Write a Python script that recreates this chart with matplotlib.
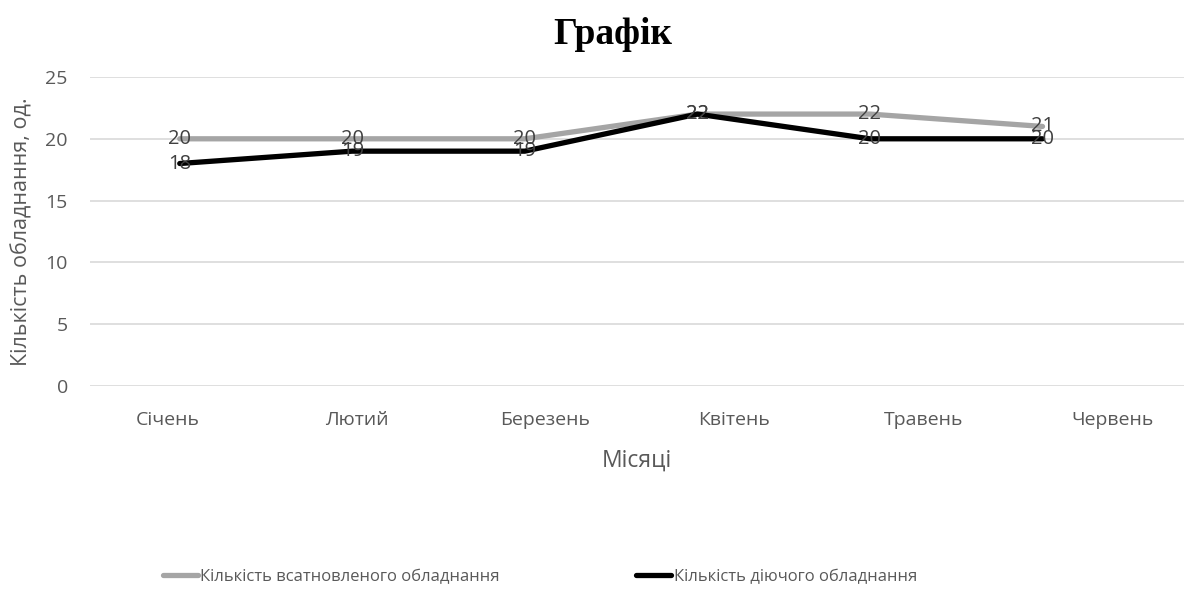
import matplotlib.pyplot as plt

months = ['Січень', 'Лютий', 'Березень', 'Квітень', 'Травень', 'Червень']
installed = [20, 20, 20, 22, 22, 21]
working = [18, 19, 19, 22, 20, 20]
yticks = [0, 5, 10, 15, 20, 25]

plt.rcParams['font.family'] = ['Open Sans', 'DejaVu Sans']
txt = '#595959'

fig = plt.figure(figsize=(11.84, 6.15), dpi=100)
W, H = 1184, 615
# plot area in pixels: x 90..1184, y 77..386
ax = fig.add_axes([90 / W, 1 - 386 / H, 1094 / W, 309 / H])

x = list(range(len(months)))
l1, = ax.plot(x, installed, color='#A5A5A5', lw=3.8, solid_capstyle='round',
              label='Кількість всатновленого обладнання')
l2, = ax.plot(x, working, color='black', lw=3.8, solid_capstyle='round',
              label='Кількість діючого обладнання')
for xi, v in zip(x, installed):
    ax.text(xi, v, str(v), ha='center', va='center', fontsize=14.5, color='#404040')
for xi, v in zip(x, working):
    ax.text(xi, v, str(v), ha='center', va='center', fontsize=14.5, color='#404040')

ax.set_xlim(-0.52, 5.82)
ax.set_ylim(0, 25)
ax.set_yticks(yticks)
ax.set_xticks([])
ax.tick_params(axis='y', length=0, labelsize=14, labelcolor=txt, pad=16)
ax.grid(axis='y', color='#D9D9D9', lw=1.2)
ax.set_axisbelow(True)
for s in ax.spines.values():
    s.set_visible(False)
ax.set_ylabel('Кількість обладнання, од.', fontsize=15.5, color=txt, labelpad=9)

# month labels on their own axis (the reference places them on a slightly wider scale)
ax2 = ax.twiny()
ax2.set_xlim(-0.41, 5.38)
ax2.set_xticks(x)
ax2.set_xticklabels(months)
ax2.xaxis.set_ticks_position('bottom')
ax2.xaxis.set_label_position('bottom')
ax2.tick_params(axis='x', length=0, labelsize=14, labelcolor=txt, pad=18)
for s in ax2.spines.values():
    s.set_visible(False)
ax2.set_xlabel('Місяці', fontsize=16.5, color=txt, labelpad=14)

fig.text(613 / W, 1 - 34 / H, 'Графік', ha='center', va='center',
         fontsize=27, fontweight='bold', family='Liberation Serif')

fig.legend(handles=[l1, l2], loc='center', bbox_to_anchor=(540 / W, 1 - 577 / H),
           ncol=2, frameon=False, fontsize=12, handlelength=2.1, handletextpad=0.15,
           columnspacing=8.2, labelcolor=txt)

fig.savefig('out.png', dpi=100)
